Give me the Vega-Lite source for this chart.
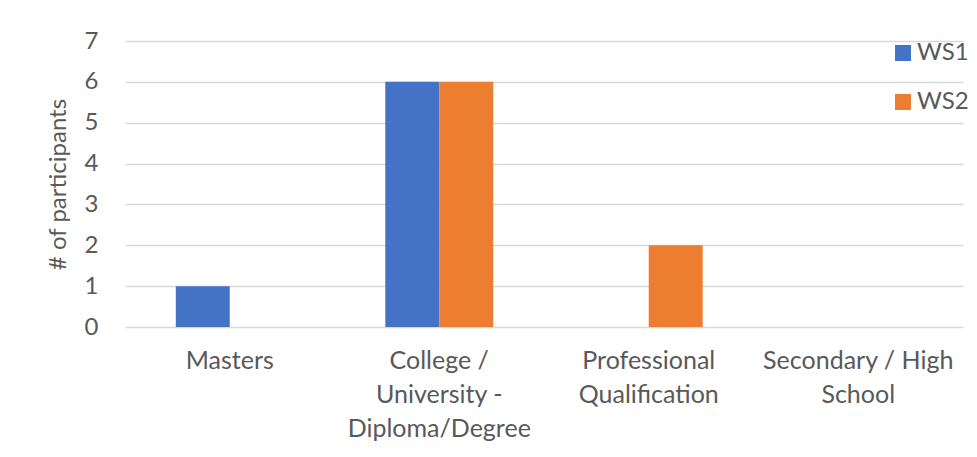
{
  "$schema": "https://vega.github.io/schema/vega-lite/v6.json",
  "width": 838,
  "height": 286,
  "autosize": "none",
  "padding": {"left": 125, "top": 41, "right": 14, "bottom": 130},
  "background": "white",
  "config": {
    "view": {"stroke": null},
    "font": "Lato",
    "axis": {"labelColor": "#595959", "titleColor": "#595959", "labelFont": "Lato", "titleFont": "Lato"},
    "legend": {"labelColor": "#595959", "labelFont": "Lato"}
  },
  "data": {
    "values": [
      {"education": "Masters", "ws": "WS1", "count": 1},
      {"education": "Masters", "ws": "WS2", "count": 0},
      {"education": "College / University - Diploma/Degree", "ws": "WS1", "count": 6},
      {"education": "College / University - Diploma/Degree", "ws": "WS2", "count": 6},
      {"education": "Professional Qualification", "ws": "WS1", "count": 0},
      {"education": "Professional Qualification", "ws": "WS2", "count": 2},
      {"education": "Secondary / High School", "ws": "WS1", "count": 0},
      {"education": "Secondary / High School", "ws": "WS2", "count": 0}
    ]
  },
  "mark": {"type": "bar"},
  "encoding": {
    "x": {
      "field": "education",
      "type": "nominal",
      "sort": ["Masters", "College / University - Diploma/Degree", "Professional Qualification", "Secondary / High School"],
      "scale": {"paddingInner": 0.485, "paddingOuter": 0.2425},
      "axis": {
        "title": null,
        "labelAngle": 0,
        "domain": false,
        "ticks": false,
        "labelFontSize": 25,
        "labelPadding": 21,
        "labelLineHeight": 34,
        "labelBaseline": "top",
        "labelLimit": 400,
        "labelOverlap": false,
        "labelExpr": "datum.value == 'College / University - Diploma/Degree' ? ['College /', 'University -', 'Diploma/Degree'] : datum.value == 'Professional Qualification' ? ['Professional', 'Qualification'] : datum.value == 'Secondary / High School' ? ['Secondary / High', 'School'] : datum.value"
      }
    },
    "xOffset": {"field": "ws", "type": "nominal", "scale": {"paddingInner": 0, "paddingOuter": 0}},
    "y": {
      "field": "count",
      "type": "quantitative",
      "scale": {"domain": [0, 7], "nice": false},
      "axis": {
        "title": "# of participants",
        "titleFontSize": 24,
        "titleFontWeight": "normal",
        "titlePadding": 14,
        "labelFontSize": 24,
        "labelPadding": 27,
        "values": [0, 1, 2, 3, 4, 5, 6, 7],
        "labelOverlap": false,
        "domain": false,
        "ticks": false,
        "grid": true,
        "gridColor": "#d9d9d9",
        "gridWidth": 1.5
      }
    },
    "color": {
      "field": "ws",
      "type": "nominal",
      "scale": {"domain": ["WS1", "WS2"], "range": ["#4472C4", "#ED7D31"]},
      "legend": {
        "title": null,
        "orient": "none",
        "legendX": 766,
        "legendY": 0,
        "symbolType": "square",
        "symbolSize": 256,
        "symbolStrokeWidth": 0,
        "labelFontSize": 24,
        "labelOffset": 2,
        "rowPadding": 25
      }
    }
  }
}
